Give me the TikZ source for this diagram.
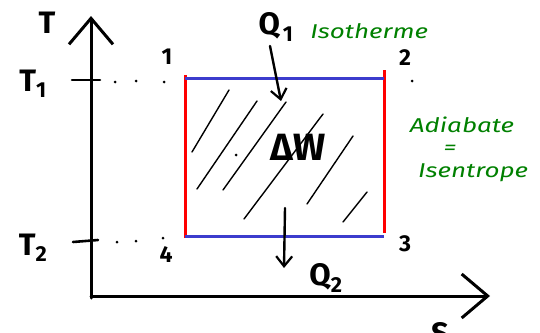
\documentclass[tikz,border=0pt]{standalone}
\usepackage{fontspec}
\setmainfont{Fira Sans}
\usetikzlibrary{arrows.meta}
\definecolor{hwred}{RGB}{255,0,0}
\definecolor{hwblue}{RGB}{60,60,205}
\definecolor{hwgreen}{RGB}{0,128,0}
\tikzset{
  axis/.style={line width=3pt, line cap=round, -{Straight Barb[length=26pt,width=44pt,line width=3pt]}},
  tick/.style={line width=2.6pt, line cap=round},
  isoline/.style={line width=3pt, hwblue},
  adiline/.style={line width=3pt, hwred},
  hatch/.style={line width=1.4pt, line cap=round},
  heat/.style={line width=2.4pt, line cap=round, -{Straight Barb[length=10pt,width=16pt,line width=2.2pt]}},
  lbl/.style={inner sep=0pt, font=\bfseries\fontsize{31}{31}\selectfont},
  num/.style={inner sep=0pt, font=\bfseries\fontsize{23}{23}\selectfont},
  note/.style={inner sep=0pt, text=hwgreen, xscale=1.3, font=\itshape\fontsize{20}{20}\selectfont},
  dotmark/.style={circle, fill=black, inner sep=0pt, minimum size=3pt}
}
\begin{document}
\begin{tikzpicture}[x=1pt,y=-1pt]
\useasboundingbox (0,0) rectangle (540,332);
% axes
\coordinate (o) at (91,296);
\coordinate (ytop) at (91,16);
\coordinate (xend) at (490,296);
\draw[axis] (91,298) -- (ytop);
\draw[axis] (o) -- (xend);
\node[lbl] (Tlab) at (47,23) {T};
% ticks
\coordinate (t1a) at (72,80); \coordinate (t1b) at (100,80);
\coordinate (t2a) at (73,242); \coordinate (t2b) at (98,240);
\draw[tick] (t1a) -- (t1b);
\draw[tick] (t2a) -- (t2b);
\node[lbl] (T1) at (33,84) {T\textsubscript{1}};
\node[lbl] (T2) at (33,248) {T\textsubscript{2}};
% dots
\node[dotmark] (d1) at (115,82) {};
\node[dotmark] (d2) at (136,81) {};
\node[dotmark] (d3) at (164,82) {};
\node[dotmark] (d4) at (117,242) {};
\node[dotmark] (d5) at (136,241) {};
\node[dotmark] (d6) at (163,238) {};
\node[dotmark] (d7) at (412,81) {};
\node[dotmark] (d8) at (236,155) {};
% cycle
\coordinate (c1) at (185,78);
\coordinate (c2) at (384,78);
\coordinate (c3) at (384,236);
\coordinate (c4) at (185,236);
\draw[hatch] (229,90) -- (192,152);
\draw[hatch] (257,101) -- (197,189);
\draw[hatch] (286,102) -- (223,190);
\draw[hatch] (323,114) -- (244,219);
\draw[hatch] (353,136) -- (307,204);
\draw[hatch] (367,192) -- (343,222);
\draw[adiline] (185,75) -- (185,238);
\draw[adiline] (384,70) -- (384,233);
\draw[isoline] (c1) -- (c2);
\draw[isoline] (c4) -- (c3);
% corner numbers
\node[num] (n1) at (167,57) {1};
\node[num] (n2) at (405,58) {2};
\node[num] (n3) at (405,244) {3};
\node[num] (n4) at (166,255) {4};
% heat
\node[lbl] (Q1) at (276,27) {Q\textsubscript{\kern3pt 1}};
\coordinate (q1s) at (270,46);
\coordinate (q1e) at (281,101);
\draw[heat] (q1s) -- (q1e);
\coordinate (q2s) at (285,208);
\coordinate (q2e) at (284,268);
\draw[heat] (q2s) -- (q2e);
\node[lbl] (Q2) at (326,278) {Q\textsubscript{2}};
% work
\node[inner sep=0pt, font=\bfseries\fontsize{38}{38}\selectfont] (dW) at (298,147) {ΔW};
% notes
\node[note, anchor=west] (iso) at (310,31) {Isotherme};
\node[note] (adi) at (462,125) {Adiabate};
\node[note] (eq) at (450,150) {=};
\node[note] (isen) at (473,173) {Isentrope};
% partial S at bottom
\begin{scope}
\clip (0,0) rectangle (540,332);
\node[lbl] (S) at (440,334) {S};
\end{scope}
\end{tikzpicture}
\end{document}
